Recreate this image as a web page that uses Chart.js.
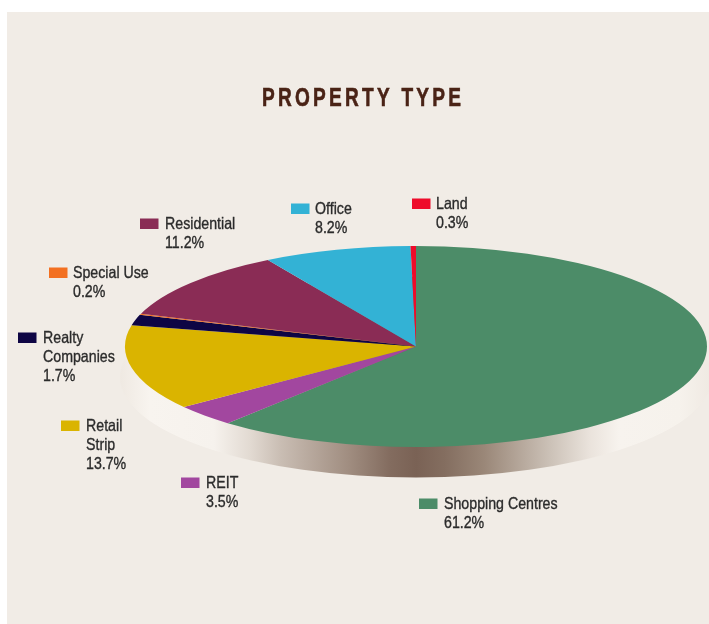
<!DOCTYPE html>
<html>
<head>
<meta charset="utf-8">
<title>Property Type</title>
<script src="https://cdn.jsdelivr.net/npm/chart.js@4"></script>
<style>
  html, body { margin: 0; padding: 0; background: #fff; overflow: hidden; }
  #panel { position: absolute; left: 7px; top: 12px; width: 702px; height: 612px; background: #f1ece6; }
  #myChart { position: absolute; left: 0; top: 0; }
</style>
</head>
<body>
<div id="panel"></div>
<canvas id="myChart" width="709" height="624"></canvas>
<script>
const chartTitle = "PROPERTY TYPE";
const categories = ["Shopping Centres", "REIT", "Retail Strip", "Realty Companies", "Special Use", "Residential", "Office", "Land"];
const shares = [61.2, 3.5, 13.7, 1.7, 0.2, 11.2, 8.2, 0.3];
const sliceColors = ["#4c8c68", "#a2479f", "#dab400", "#0e0544", "#f37021", "#8a2c55", "#33b2d5", "#ee0b2a"];

// wrapped legend names, same order as categories
const legendLines = [["Shopping Centres"], ["REIT"], ["Retail", "Strip"], ["Realty", "Companies"], ["Special Use"], ["Residential"], ["Office"], ["Land"]];
// swatch left, swatch bottom (first text baseline), text left
const legendX = [419, 181, 61, 18, 49, 140, 291, 412];
const legendY = [509, 488, 431, 343, 278, 229, 214, 209];
const legendTextX = [444, 206, 86, 43, 73, 165, 315, 436];

// the pie is a tilted disc: the circle chart.js lays out gets squashed into this ellipse
const disc = { cx: 416, cy: 346.5, ry: 100.5, layoutCy: 312, radius: 291 };
const rim = { cx: 416, cy: 377, rx: 296, ry: 100.5 };
const rimStops = [
    [120, "#efe9e2"], [150, "#f8f4ef"], [214, "#f6f2ed"], [250, "#e2dad2"], [281, "#c9bdb3"], [349, "#a08d80"],
    [390, "#836c5f"], [416, "#7a6255"], [445, "#846e60"], [484, "#9a8778"], [552, "#cdc3b9"],
    [590, "#eae3dc"], [619, "#f7f3ee"], [680, "#f6f2ec"], [712, "#efe9e2"]
];

// no condensed face is installed, so squeeze Liberation Sans sideways
function narrowText(ctx, txt, x, y, squeeze, weight) {
    ctx.save();
    ctx.translate(x, y);
    ctx.scale(squeeze, 1);
    ctx.fillText(txt, 0, 0);
    ctx.lineWidth = weight;
    ctx.strokeText(txt, 0, 0);
    ctx.restore();
}

const tiltedPie = {
    id: "tiltedPie",
    beforeDatasetsDraw(chart) {
        const ctx = chart.ctx;
        let grad = ctx.createLinearGradient(rimStops[0][0], 0, rimStops[rimStops.length - 1][0], 0);
        let span = rimStops[rimStops.length - 1][0] - rimStops[0][0];
        rimStops.forEach(s => grad.addColorStop((s[0] - rimStops[0][0]) / span, s[1]));
        ctx.save();
        ctx.fillStyle = grad;
        ctx.beginPath();
        ctx.ellipse(rim.cx, rim.cy, rim.rx, rim.ry, 0, 0, Math.PI * 2);
        ctx.fill();
        ctx.restore();

        ctx.save();
        ctx.translate(0, disc.cy);
        ctx.scale(1, disc.ry / disc.radius);
        ctx.translate(0, -disc.layoutCy);
    },
    afterDatasetsDraw(chart) {
        chart.ctx.restore();
    },
    afterDraw(chart) {
        const ctx = chart.ctx;
        ctx.save();
        ctx.textAlign = "left";
        ctx.textBaseline = "alphabetic";

        ctx.fillStyle = "#4a2316";
        ctx.strokeStyle = "#4a2316";
        ctx.font = "bold 26.5px 'Liberation Sans'";
        ctx.letterSpacing = "4.5px";
        narrowText(ctx, chartTitle, 262, 106, 0.72, 0.6);

        ctx.letterSpacing = "0px";
        ctx.font = "16.5px 'Liberation Sans'";
        ctx.strokeStyle = "#2b2b2b";
        categories.forEach((name, i) => {
            ctx.fillStyle = sliceColors[i];
            ctx.fillRect(legendX[i], legendY[i] - 10.5, 18.5, 10.5);
            ctx.fillStyle = "#2b2b2b";
            let lines = legendLines[i].concat([shares[i].toFixed(1) + "%"]);
            lines.forEach((txt, n) => narrowText(ctx, txt, legendTextX[i], legendY[i] + n * 19.2, 0.86, 0.35));
        });
        ctx.restore();
    }
};

new Chart(document.getElementById("myChart"), {
    type: "pie",
    data: {
        labels: categories,
        datasets: [{
            data: shares,
            backgroundColor: sliceColors,
            borderWidth: 0
        }]
    },
    options: {
        responsive: false,
        animation: false,
        layout: { padding: { left: 125, right: 2, top: 21, bottom: 21 } },
        plugins: {
            legend: { display: false },
            title: { display: false },
            tooltip: { enabled: false }
        }
    },
    plugins: [tiltedPie]
});
</script>
</body>
</html>
